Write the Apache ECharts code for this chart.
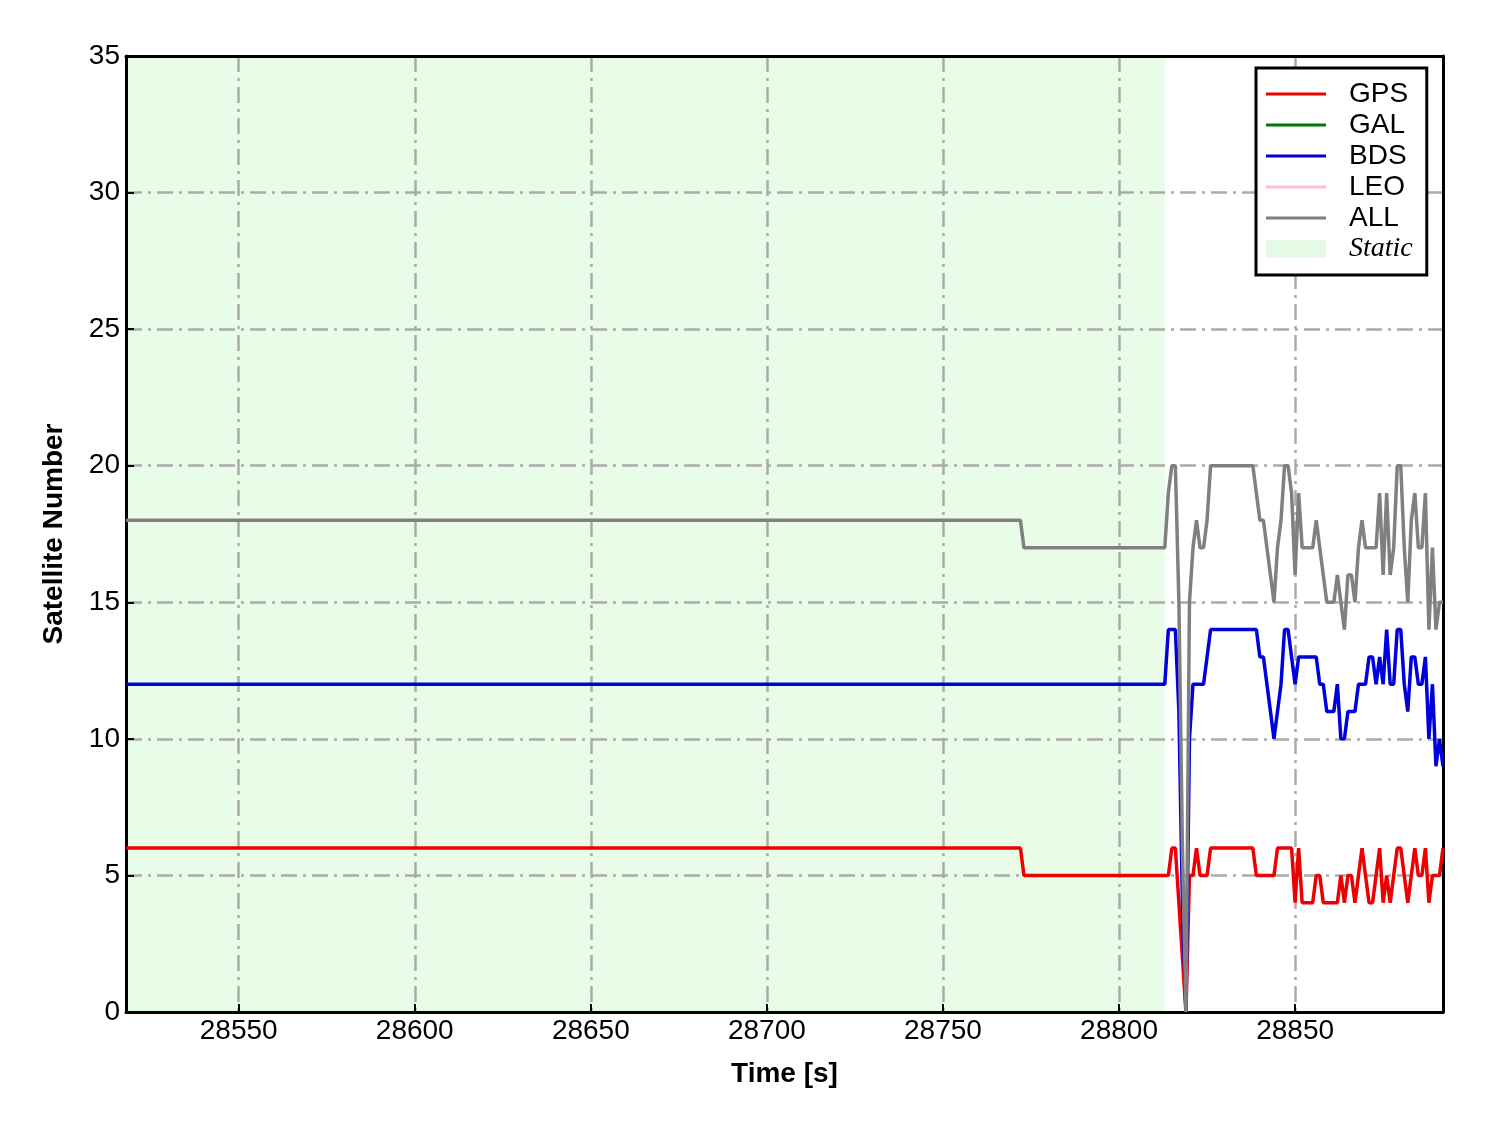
<!DOCTYPE html>
<html>
<head>
<meta charset="utf-8">
<script src="https://cdn.jsdelivr.net/npm/echarts@6/dist/echarts.min.js"></script>
<style>
html,body{margin:0;padding:0;background:#fff;}
#chart{width:1488px;height:1133px;}
</style>
</head>
<body>
<div id="chart"></div>
<script>
// ---- data ----
const xRange = [28518, 28892];
const yRange = [0, 35];
const xTicks = [28550, 28600, 28650, 28700, 28750, 28800, 28850];
const staticRange = [28518, 28813];

const times = [28518, 28772, 28773,
  28813, 28814, 28815, 28816, 28817, 28818, 28819, 28820, 28821, 28822, 28823, 28824, 28825,
  28826, 28827, 28828, 28829, 28830, 28831, 28832, 28833, 28834, 28835, 28836, 28837, 28838,
  28839, 28840, 28841, 28842, 28843, 28844, 28845, 28846, 28847, 28848, 28849, 28850,
  28851, 28852, 28853, 28854, 28855, 28856, 28857, 28858, 28859, 28860,
  28861, 28862, 28863, 28864, 28865, 28866, 28867, 28868, 28869, 28870,
  28871, 28872, 28873, 28874, 28875, 28876, 28877, 28878, 28879, 28880,
  28881, 28882, 28883, 28884, 28885, 28886, 28887, 28888, 28889, 28890,
  28891, 28892];

const gpsCounts = [6, 6, 5,
  5, 5, 6, 6, 4, 2, 0, 5, 5, 6, 5, 5, 5,
  6, 6, 6, 6, 6, 6, 6, 6, 6, 6, 6, 6, 6,
  5, 5, 5, 5, 5, 5, 6, 6, 6, 6, 6, 4,
  6, 4, 4, 4, 4, 5, 5, 4, 4, 4,
  4, 4, 5, 4, 5, 5, 4, 5, 6, 5,
  4, 4, 5, 6, 4, 5, 4, 5, 6, 6,
  5, 4, 5, 6, 5, 5, 6, 4, 5, 5,
  5, 6];

const bdsCounts = [12, 12, 12,
  12, 14, 14, 14, 11, 4, 0, 10, 12, 12, 12, 12, 13,
  14, 14, 14, 14, 14, 14, 14, 14, 14, 14, 14, 14, 14,
  14, 13, 13, 12, 11, 10, 11, 12, 14, 14, 13, 12,
  13, 13, 13, 13, 13, 13, 12, 12, 11, 11,
  11, 12, 10, 10, 11, 11, 11, 12, 12, 12,
  13, 13, 12, 13, 12, 14, 12, 12, 14, 14,
  12, 11, 13, 13, 12, 12, 13, 10, 12, 9,
  10, 9];

const allCounts = [18, 18, 17,
  17, 19, 20, 20, 15, 6, 0, 15, 17, 18, 17, 17, 18,
  20, 20, 20, 20, 20, 20, 20, 20, 20, 20, 20, 20, 20,
  19, 18, 18, 17, 16, 15, 17, 18, 20, 20, 19, 16,
  19, 17, 17, 17, 17, 18, 17, 16, 15, 15,
  15, 16, 15, 14, 16, 16, 15, 17, 18, 17,
  17, 17, 17, 19, 16, 19, 16, 17, 20, 20,
  17, 15, 18, 19, 17, 17, 19, 14, 17, 14,
  15, 15];

const galCounts = [];
const leoCounts = [];

const seriesNames = ['GPS', 'GAL', 'BDS', 'LEO', 'ALL'];
const seriesColors = ['#ee0000', '#007700', '#0000dd', '#ffc0cb', '#808080'];
const seriesValues = [gpsCounts, galCounts, bdsCounts, leoCounts, allCounts];

// ---- chart ----
const chart = echarts.init(document.getElementById('chart'), null, {renderer: 'canvas'});

const gridColor = '#ababab';
const dashDot = [16, 6, 3, 6];
const font = 'Liberation Sans, Arial, Helvetica, sans-serif';
const lineIcon = 'path://M0,0L60,0L60,3L0,3Z';

function pairs(vals) {
  return vals.map((v, i) => [times[i], v]);
}

const lineSeries = seriesNames.map((name, k) => ({
  name: name,
  type: 'line',
  data: pairs(seriesValues[k]),
  showSymbol: false,
  symbol: 'none',
  color: seriesColors[k],
  lineStyle: {width: 3.5, color: seriesColors[k]},
  z: 10,
  animation: false,
  clip: true
}));

const option = {
  animation: false,
  backgroundColor: '#ffffff',
  grid: {left: 126, right: 45, top: 56, bottom: 121, containLabel: false},
  xAxis: [{
    type: 'value',
    min: xRange[0], max: xRange[1],
    position: 'bottom',
    z: 5,
    axisLine: {show: true, onZero: false, lineStyle: {color: '#000', width: 3}},
    axisTick: {show: true, inside: true, length: 8, customValues: xTicks, lineStyle: {color: '#000', width: 2}},
    axisLabel: {show: true, customValues: xTicks, fontSize: 28, color: '#000', fontFamily: font, margin: 5,
      formatter: v => String(v)},
    splitLine: {show: true, customValues: xTicks, lineStyle: {color: gridColor, width: 2.5, type: dashDot}},
    name: 'Time [s]',
    nameLocation: 'middle',
    nameGap: 48,
    nameTextStyle: {fontSize: 28, fontWeight: 'bold', color: '#000', fontFamily: font}
  }, {
    type: 'value',
    min: xRange[0], max: xRange[1],
    position: 'top',
    z: 5,
    axisLine: {show: true, onZero: false, lineStyle: {color: '#000', width: 3}},
    axisTick: {show: false},
    axisLabel: {show: false},
    splitLine: {show: false}
  }],
  yAxis: [{
    type: 'value',
    min: yRange[0], max: yRange[1], interval: 5,
    position: 'left',
    z: 5,
    axisLine: {show: true, onZero: false, lineStyle: {color: '#000', width: 3}},
    axisTick: {show: true, inside: true, length: 8, lineStyle: {color: '#000', width: 2}},
    axisLabel: {show: true, fontSize: 28, color: '#000', fontFamily: font, margin: 6},
    splitLine: {show: true, lineStyle: {color: gridColor, width: 2.5, type: dashDot}},
    name: 'Satellite Number',
    nameLocation: 'middle',
    nameGap: 58,
    nameTextStyle: {fontSize: 28, fontWeight: 'bold', color: '#000', fontFamily: font}
  }, {
    type: 'value',
    min: yRange[0], max: yRange[1], interval: 5,
    position: 'right',
    z: 5,
    axisLine: {show: true, onZero: false, lineStyle: {color: '#000', width: 3}},
    axisTick: {show: false},
    axisLabel: {show: false},
    splitLine: {show: false}
  }],
  legend: {
    orient: 'vertical',
    left: 1256, top: 68,
    padding: [12, 14, 12, 10],
    borderColor: '#000',
    borderWidth: 3,
    borderRadius: 0,
    backgroundColor: '#fff',
    itemWidth: 60,
    itemHeight: 18,
    itemGap: 3,
    symbolKeepAspect: true,
    z: 20,
    selectedMode: false,
    textStyle: {fontSize: 28, lineHeight: 28, color: '#000', fontFamily: font, padding: [0, 0, 0, 18]},
    data: [
      {name: 'GPS', icon: lineIcon}, {name: 'GAL', icon: lineIcon}, {name: 'BDS', icon: lineIcon},
      {name: 'LEO', icon: lineIcon}, {name: 'ALL', icon: lineIcon},
      {name: 'Static', icon: 'rect', itemStyle: {color: '#e6fbe6'},
       textStyle: {fontStyle: 'italic', fontFamily: 'Liberation Serif, Times New Roman, serif', fontSize: 28, lineHeight: 28, padding: [0, 0, 0, 18]}}
    ]
  },
  series: lineSeries.concat([{
    name: 'Static',
    type: 'line',
    data: [],
    color: '#e6fbe6',
    itemStyle: {color: '#e6fbe6'},
    z: 1,
    markArea: {
      silent: true,
      z: 1,
      itemStyle: {color: '#e8fce8'},
      data: [[{xAxis: staticRange[0]}, {xAxis: staticRange[1]}]]
    }
  }])
};

chart.setOption(option);
</script>
</body>
</html>
